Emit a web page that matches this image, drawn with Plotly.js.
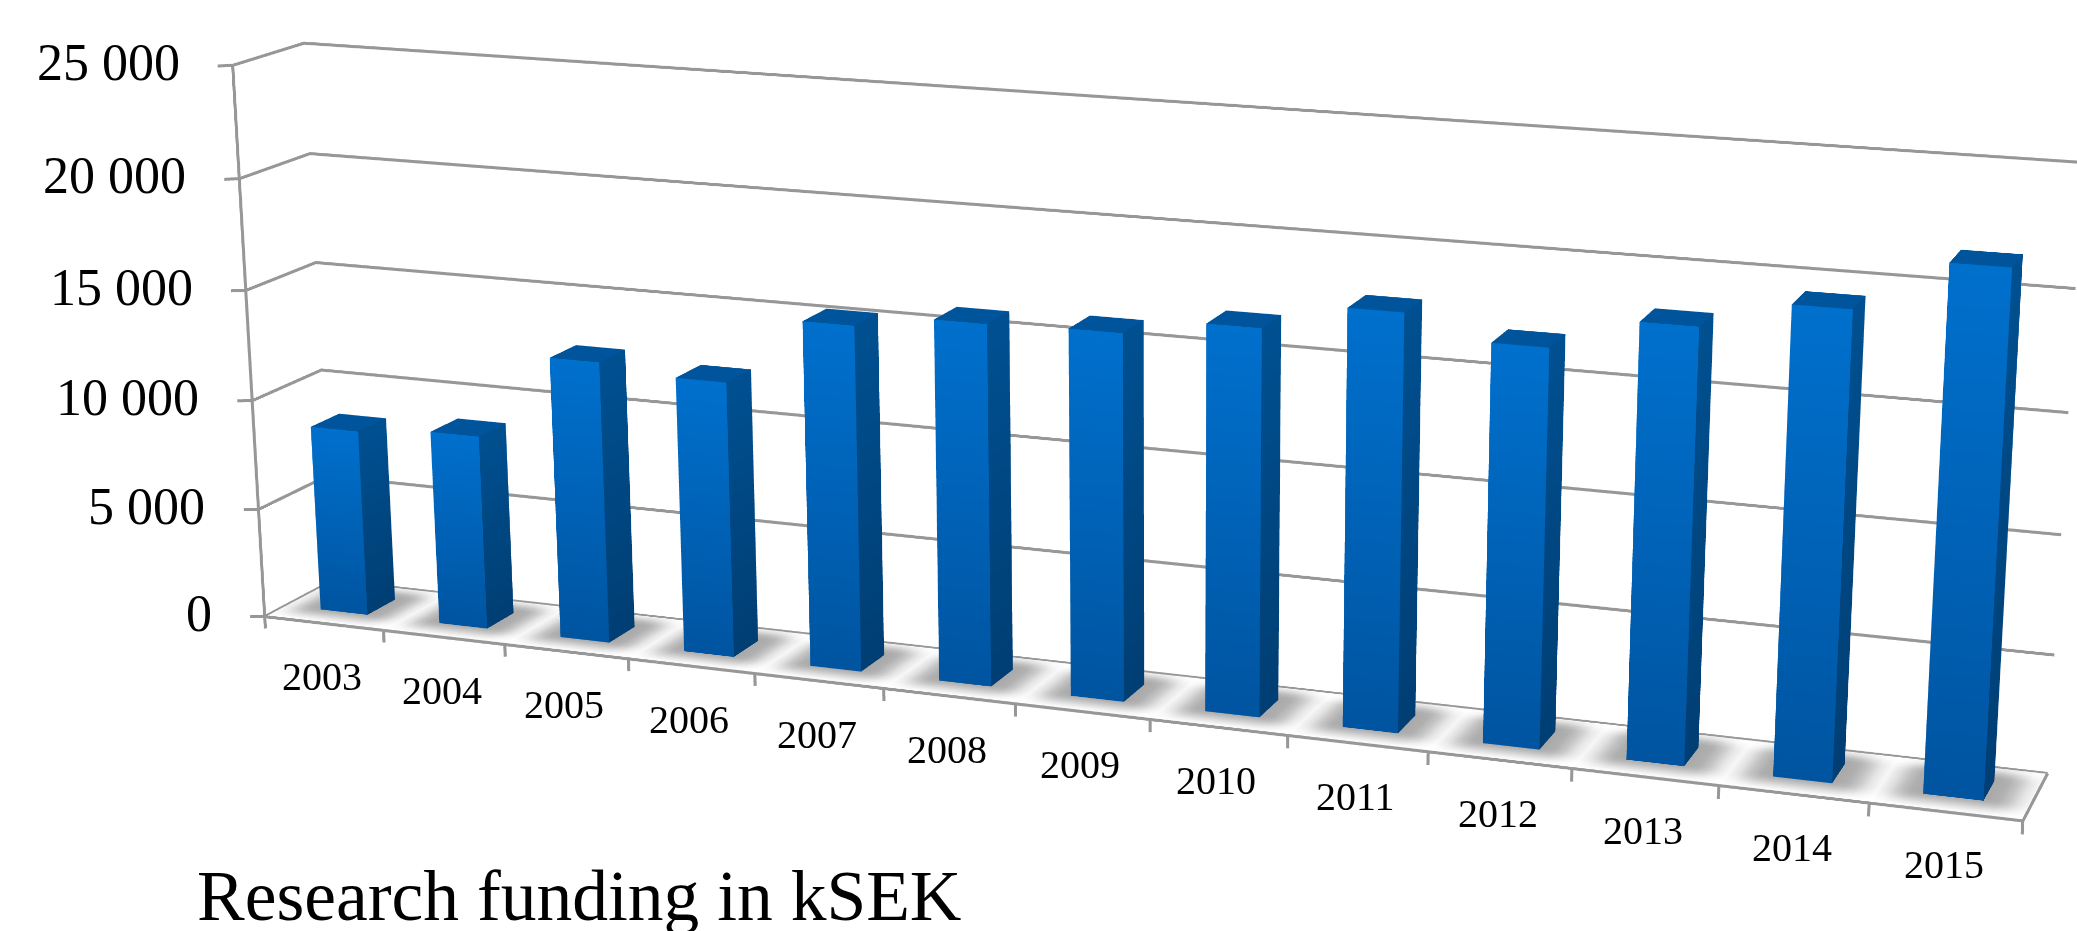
<!DOCTYPE html>
<html><head><meta charset="utf-8">
<script src="https://cdn.plot.ly/plotly-3.0.1.min.js"></script>
<style>html,body{margin:0;padding:0;background:#fff;overflow:hidden;width:2077px;height:931px}
#plot{position:absolute;left:0;top:-1324px}</style></head>
<body><div id="plot"></div>
<script>
const categories=["2003","2004","2005","2006","2007","2008","2009","2010","2011","2012","2013","2014","2015"];
const funding=[8516,8833,12706,12332,15325,15892,16002,16708,17855,16904,18260,19447,21574];
const valueTicks=[0,5000,10000,15000,20000,25000];
const valueTickLabels=["0","5 000","10 000","15 000","20 000","25 000"];

const W=2328,H=3663,TOP=1324;
const serif='"Liberation Serif","Times New Roman",serif';
const xr=[-0.15,13.03], yr=[-0.02,1.02], zr=[-600,25200];
const sx=134.7, sy=132.8, sz=0.02228, s=1/555;
const EYE=[2289.8,-3660.5,1310.1], FWD=[-0.3292,0.9039,-0.2726], DIST=4117;
const boxC=[(xr[0]+xr[1])/2*sx,(yr[0]+yr[1])/2*sy,(zr[0]+zr[1])/2*sz];
const eyeN=EYE.map((v,i)=>(v-boxC[i])*s);
const centerN=eyeN.map((v,i)=>v+FWD[i]*DIST*s);

const barL=0.297, barR=0.694, barF=0.305, barB=0.72;
function lerp(a,b,t){return a+(b-a)*t}
function mix(c1,c2,t){return 'rgb('+c1.map((v,i)=>Math.round(lerp(v,c2[i],t))).join(',')+')'}

// bars
const bx=[],by=[],bz=[],bi=[],bj=[],bk=[],bc=[];
function quad(p,cols){const n=bx.length;p.forEach((q,m)=>{bx.push(q[0]);by.push(q[1]);bz.push(q[2]);bc.push(cols[m])});
 bi.push(n,n);bj.push(n+1,n+2);bk.push(n+2,n+3);}
funding.forEach((v,n)=>{
 const l=n+barL,r=n+barR;
 const fTop='rgb(0,112,205)',fBot='rgb(0,84,160)',sTop='rgb(0,80,145)',sBot='rgb(0,62,115)',t='rgb(0,84,155)';
 quad([[l,barF,0],[r,barF,0],[r,barF,v],[l,barF,v]],[fBot,fBot,fTop,fTop]);
 quad([[r,barF,0],[r,barB,0],[r,barB,v],[r,barF,v]],[sBot,sBot,sTop,sTop]);
 quad([[l,barF,v],[r,barF,v],[r,barB,v],[l,barB,v]],[t,t,t,t]);
});
const barsTrace={type:'mesh3d',x:bx,y:by,z:bz,i:bi,j:bj,k:bk,vertexcolor:bc,flatshading:true,hoverinfo:'skip',showscale:false,
 lighting:{ambient:1,diffuse:0,specular:0,roughness:1,fresnel:0}};

// floor with soft shadows
const fx=[],fy=[],fz=[],fi=[],fj=[],fk=[],fc=[];
const NX=13*14,NY=14;
function smooth(t){t=Math.max(0,Math.min(1,t));return t*t*(3-2*t)}
for(let a=0;a<=NX;a++)for(let b=0;b<=NY;b++){
 const x=a/NX*13,y=b/NY;
 const n=Math.min(12,Math.floor(x));
 const dx=Math.max(0,n+barL-x,x-(n+barR))*sx;
 const dy=Math.max(0,barF-0.1-y,y-barB)*sy;
 const d=Math.hypot(dx,dy);
 const dark=Math.exp(-Math.pow(d/30,3))*smooth(y/0.36);
 fx.push(x);fy.push(y);fz.push(-15);fc.push(mix([255,255,255],[170,170,170],dark));
 if(a<NX&&b<NY){const p=a*(NY+1)+b,q=p+NY+1;fi.push(p,p);fj.push(q,q+1);fk.push(q+1,p+1);}
}
const floorTrace={type:'mesh3d',x:fx,y:fy,z:fz,i:fi,j:fj,k:fk,vertexcolor:fc,hoverinfo:'skip',showscale:false,
 lighting:{ambient:1,diffuse:0,specular:0,roughness:1,fresnel:0}};

// frame lines, gridlines and ticks
const lx=[],ly=[],lz=[];
function seg(pts){pts.forEach(p=>{lx.push(p[0]);ly.push(p[1]);lz.push(p[2])});lx.push(null);ly.push(null);lz.push(null)}
valueTicks.forEach(t=>{
 seg([[0,0,t],[0,1,t],[13,1,t]]);
 seg([[-0.125,0,t-75],[0,0,t]]);
});
seg([[0,0,0],[0,0,25000]]);
seg([[0,0,0],[13,0,0],[13,1,0]]);
for(let n=0;n<=13;n++)seg([[n,0,0],[n,0,-560]]);
const lineTrace={type:'scatter3d',mode:'lines',x:lx,y:ly,z:lz,connectgaps:false,hoverinfo:'skip',line:{color:'#979797',width:6}};

const annos=[];
valueTicks.forEach((t,n)=>annos.push({x:0,y:0,z:t,text:valueTickLabels[n],showarrow:false,xanchor:'right',yanchor:'middle',xshift:-51,yshift:3,font:{family:serif,size:52,color:'#000'}}));
categories.forEach((c,n)=>annos.push({x:n+0.5,y:0,z:0,text:c,showarrow:false,xanchor:'center',yanchor:'middle',xshift:-2,yshift:-53,font:{family:serif,size:40,color:'#000'}}));

const ax={visible:false,showgrid:false,zeroline:false,showspikes:false,autorange:false};
const layout={width:W,height:H,margin:{l:0,r:0,t:0,b:0},paper_bgcolor:'#fff',showlegend:false,
 title:{text:'Research funding in kSEK',x:197/W,xanchor:'left',xref:'paper',y:1-(920+TOP)/H,yref:'paper',yanchor:'bottom',font:{family:serif,size:71.5,color:'#000'}},
 scene:{domain:{x:[0,1],y:[0,1]},bgcolor:'#fff',dragmode:false,
  aspectmode:'manual',aspectratio:{x:(xr[1]-xr[0])*sx*s,y:(yr[1]-yr[0])*sy*s,z:(zr[1]-zr[0])*sz*s},
  camera:{eye:{x:eyeN[0],y:eyeN[1],z:eyeN[2]},center:{x:centerN[0],y:centerN[1],z:centerN[2]},up:{x:0,y:0,z:1},projection:{type:'perspective'}},
  xaxis:Object.assign({},ax,{range:xr}),yaxis:Object.assign({},ax,{range:yr}),zaxis:Object.assign({},ax,{range:zr}),
  annotations:annos}};
Plotly.newPlot('plot',[floorTrace,lineTrace,barsTrace],layout,{displayModeBar:false,responsive:false});
</script></body></html>
